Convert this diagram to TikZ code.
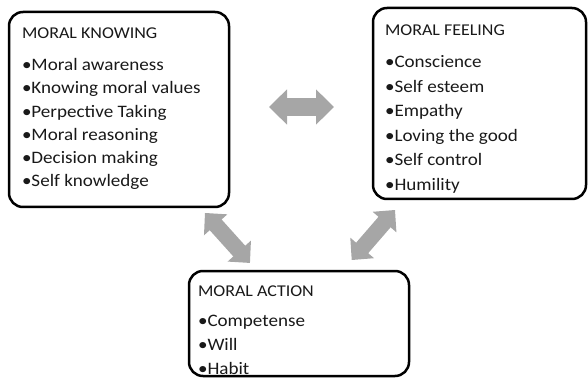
\documentclass[tikz,border=0pt]{standalone}
\usepackage{fontspec}
\setmainfont{Carlito}[FakeStretch=1.09]
\usetikzlibrary{arrows.meta,positioning}
\definecolor{arrowgray}{RGB}{166,166,166}
\newcommand{\boxtitle}[1]{{\fontsize{16.5}{18}\selectfont #1}}
\tikzset{
    box/.style={draw,line width=2.5pt,rounded corners=14pt,inner sep=0pt,outer sep=0pt},
    list/.style={align=left,inner sep=0pt,outer sep=0pt,text=black!90,font=\fontsize{17.5}{#1}\selectfont},
    biarrow/.style={arrowgray,line width=#1,{Triangle[width=0pt 1.9,length=0pt 1.0]}-{Triangle[width=0pt 1.9,length=0pt 1.0]}},
    biarrow/.default=18pt,
}

\begin{document}
\begin{tikzpicture}[x=1pt,y=-1pt]
    \useasboundingbox (0,0) rectangle (588,379);
    \node[box,minimum width=220pt,minimum height=195pt] (know) at (119,109.5) {};
    \node[box,minimum width=213pt,minimum height=191pt] (feel) at (479.5,103.5) {};
    \node[box,minimum width=220pt,minimum height=105pt] (act) at (299,323.5) {};

    \node[list=23.2pt,below right=16pt and 13pt of know.north west] (knowlist) {\boxtitle{MORAL KNOWING}\\[8.8pt]
        •Moral awareness\\ •Knowing moral values\\ •Perpective Taking\\
        •Moral reasoning\\ •Decision making\\ •Self knowledge};
    \node[list=24.6pt,below right=16.5pt and 12pt of feel.north west] (feellist) {\boxtitle{MORAL FEELING}\\[7.6pt]
        •Conscience\\ •Self esteem\\ •Empathy\\
        •Loving the good\\ •Self control\\ •Humility};
    \node[list=24pt,below right=14.5pt and 9pt of act.north west] (actlist) {\boxtitle{MORAL ACTION}\\[6.5pt]
        •Competense\\ •Will\\ •Habit};

    \draw[biarrow,shorten <=40pt,shorten >=39pt] ([yshift=2.5pt]know.east) -- ([yshift=-3.5pt]feel.west);
    \draw[biarrow=16pt,shorten <=8pt,shorten >=10.8pt] ([xshift=80.6pt]know.south) -- ([xshift=-41.8pt]act.north);
    \draw[biarrow=16pt,shorten <=14.5pt,shorten >=14.5pt] ([xshift=43.2pt]act.north) -- ([xshift=-75pt]feel.south);
\end{tikzpicture}
\end{document}
